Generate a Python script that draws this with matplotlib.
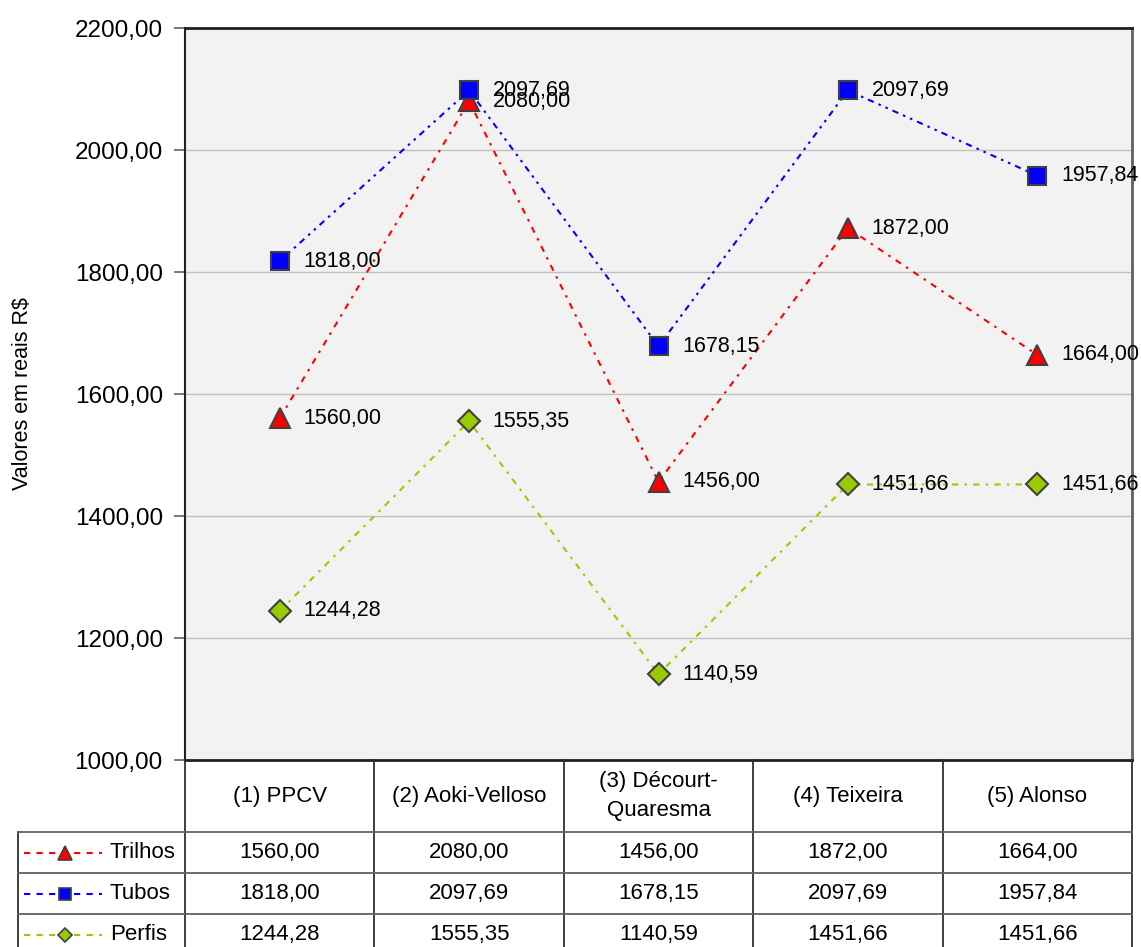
import matplotlib.pyplot as plt
import matplotlib.ticker as mticker
import numpy as np

plt.rcParams['font.family'] = ['Liberation Sans', 'DejaVu Sans']

metodos = ['(1) PPCV', '(2) Aoki-Velloso', '(3) Décourt-\nQuaresma', '(4) Teixeira', '(5) Alonso']
series = ['Trilhos', 'Tubos', 'Perfis']
trilhos = [1560.00, 2080.00, 1456.00, 1872.00, 1664.00]
tubos = [1818.00, 2097.69, 1678.15, 2097.69, 1957.84]
perfis = [1244.28, 1555.35, 1140.59, 1451.66, 1451.66]
valores = [trilhos, tubos, perfis]

cores = ['#FF0000', '#0000FF', '#99CC00']
marcadores = ['^', 's', 'D']
tam = [15, 13.5, 11.5]
tracos = [(3, 3, 1.2, 3), (3, 2.5, 1.2, 2.5, 1.2, 2.5), (3, 3, 1.2, 3)]
borda = '#404040'


def fmt(v):
    return ('%.2f' % v).replace('.', ',')


W, H = 1141, 947
fig = plt.figure(figsize=(W / 100, H / 100), dpi=100)
x0, x1, y0, y1 = 185, 1132, 28, 760
ax = fig.add_axes([x0 / W, 1 - y1 / H, (x1 - x0) / W, (y1 - y0) / H])
ax.set_facecolor('#F2F2F2')

x = np.arange(len(metodos))
for k in range(len(series)):
    ax.plot(x, valores[k], color=cores[k], lw=1.5, dashes=tracos[k], zorder=2)
    ax.plot(x, valores[k], ls='none', marker=marcadores[k], ms=tam[k],
            mfc=cores[k], mec=borda, mew=1.5, zorder=3)
    for i, v in enumerate(valores[k]):
        ax.annotate(fmt(v), (x[i], v), xytext=(17, 0), textcoords='offset points',
                    va='center', ha='left', fontsize=15.5, zorder=4)

ax.set_xlim(-0.5, len(metodos) - 0.5)
ax.set_ylim(1000, 2200)
ax.set_yticks(np.arange(1000, 2201, 200))
ax.yaxis.set_major_formatter(mticker.FuncFormatter(lambda v, p: fmt(v)))
ax.set_xticks([])
ax.tick_params(axis='y', direction='out', length=8, width=1.2, color='#606060',
               labelsize=17.5, pad=8)
ax.grid(axis='y', color='#C0C0C0', lw=1)
ax.set_axisbelow(True)
ax.set_ylabel('Valores em reais R$', fontsize=15.5)
ax.yaxis.set_label_coords(-152 / (x1 - x0), 0.5)
for s in ['top', 'bottom']:
    ax.spines[s].set_linewidth(2)
    ax.spines[s].set_color('#202020')
ax.spines['left'].set_linewidth(1.5)
ax.spines['left'].set_color('#202020')
ax.spines['right'].set_linewidth(2)
ax.spines['right'].set_color('#606060')

# tabela abaixo do grafico, em coordenadas de pixel
tb = fig.add_axes([0, 0, 1, 1], zorder=5)
tb.set_xlim(0, W)
tb.set_ylim(H, 0)
tb.axis('off')
lc = '#303030'
col_w = (x1 - x0) / len(metodos)
linhas_y = [y1, 832, 873, 914, 955]
leg_x = 18
for i in range(len(metodos) + 1):
    xb = x0 + i * col_w
    tb.plot([xb, xb], [y1, H], color=lc, lw=1.3)
tb.plot([leg_x, leg_x], [linhas_y[1], H], color=lc, lw=1.3)
for yl in linhas_y[1:4]:
    tb.plot([leg_x, x1], [yl, yl], color='#606060', lw=1.3)

for i, nome in enumerate(metodos):
    cx = x0 + (i + 0.5) * col_w
    tb.text(cx, (linhas_y[0] + linhas_y[1]) / 2, nome, ha='center', va='center',
            fontsize=16, linespacing=1.45)

for k in range(len(series)):
    cy = (linhas_y[k + 1] + linhas_y[k + 2]) / 2
    tb.plot([24, 102], [cy, cy], color=cores[k], lw=1.5, dashes=(3, 3))
    tb.plot([65], [cy], marker=marcadores[k], ms=tam[k] * 0.65, mfc=cores[k],
            mec=borda, mew=1.2)
    tb.text(110, cy, series[k], ha='left', va='center', fontsize=16)
    for i, v in enumerate(valores[k]):
        cx = x0 + (i + 0.5) * col_w
        tb.text(cx, cy, fmt(v), ha='center', va='center', fontsize=16)

fig.savefig('out.png', dpi=100)
